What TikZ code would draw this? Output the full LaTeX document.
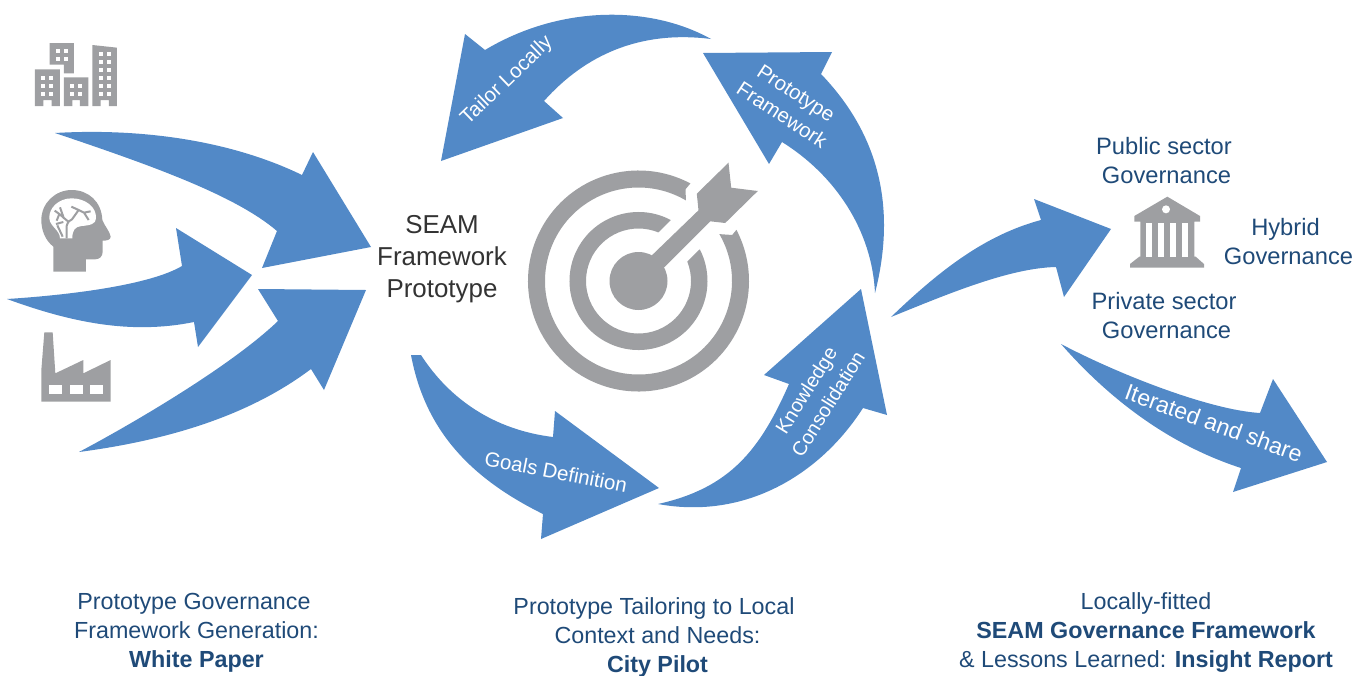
\documentclass[tikz,border=0pt]{standalone}
\usepackage{fontspec}
\setmainfont{Liberation Sans}
\definecolor{arrowblue}{HTML}{5289C7}
\definecolor{icongray}{HTML}{9E9FA2}
\definecolor{navy}{HTML}{1F4A78}
\definecolor{ink}{HTML}{333333}
\tikzset{
  bigarrow/.style={fill=arrowblue,draw=none},
  icon/.style={fill=icongray,draw=none},
  hole/.style={fill=white,draw=none},
  arrowlabel/.style={text=white,align=center,font=\fontsize{20.5}{26}\selectfont,inner sep=0pt},
  govlabel/.style={text=navy,align=center,font=\fontsize{23.7}{29}\selectfont,inner sep=0pt},
  caption/.style={text=navy,align=center,font=\fontsize{23.3}{29}\selectfont,inner sep=0pt},
  corelabel/.style={text=ink,align=center,font=\fontsize{25.9}{32}\selectfont,inner sep=0pt},
  zoomed/.style={shift={(0pt,-20pt)},x=0.33333pt,y=-0.33333pt}
}
\begin{document}
\begin{tikzpicture}[x=1pt,y=-1pt]
\useasboundingbox (0,0) rectangle (1365,675);
% left arrows
\fill[bigarrow] (55,133) .. controls (140,128) and (230,140) .. (302,175) -- (313,152) -- (371,247) -- (262,268) -- (277,231) .. controls (235,195) and (150,165) .. (55,133) -- cycle;
\fill[bigarrow] (7,299) .. controls (70,295) and (150,285) .. (182,266) -- (176,228) -- (252,275) -- (198,347) -- (194,322) .. controls (130,335) and (70,322) .. (7,299) -- cycle;
\fill[bigarrow] (79,452) .. controls (130,425) and (230,367) .. (278,321) -- (258,289) -- (366,290) -- (324,390) -- (311,369) .. controls (250,415) and (170,440) .. (79,452) -- cycle;
% cycle arrows
\fill[bigarrow] (711,39) .. controls (650,5) and (560,5) .. (485,50) -- (465,34) -- (441,161) -- (563,118) -- (544,101) .. controls (585,55) and (640,30) .. (711,39) -- cycle;
\fill[bigarrow] (703,53) -- (832,52) -- (821,74) .. controls (870,125) and (900,195) .. (875,293) .. controls (872,230) and (835,175) .. (782,142) -- (769,164) -- cycle;
\fill[bigarrow] (411,355) -- (421,355) .. controls (450,400) and (495,430) .. (553,437) -- (555,411) -- (659,488) -- (541,539) -- (543,514) .. controls (470,478) and (425,430) .. (411,355) -- cycle;
\fill[bigarrow] (658,504) .. controls (730,488) and (760,450) .. (789,384) -- (764,375) -- (861,289) -- (887,415) -- (863,408) .. controls (820,475) and (745,520) .. (658,504) -- cycle;
% right arrows
\fill[bigarrow] (891,317) .. controls (940,270) and (985,235) .. (1041,220) -- (1034,199) -- (1111,229) -- (1064,297) -- (1056,267) .. controls (1010,268) and (950,293) .. (891,317) -- cycle;
\fill[bigarrow] (1061,344) .. controls (1120,375) and (1210,410) .. (1260,413) -- (1273,379) -- (1327,462) -- (1233,492) -- (1241,468) .. controls (1170,445) and (1110,400) .. (1061,344) -- cycle;
% target
\begin{scope}[shift={(638.5pt,-281pt)},x=1pt,y=1pt]
\fill[icon] (0,0) circle[radius=29pt];
\fill[icon] (62:69) arc[start angle=62,end angle=387.4,radius=69pt] -- (21.8:52.5) arc[start angle=381.8,end angle=67.8,radius=52.5pt] -- cycle;
\fill[icon] (62:110.5) arc[start angle=62,end angle=387.6,radius=110.5pt] -- (93.7,46) -- (30.1:93.5) arc[start angle=390.1,end angle=59.5,radius=93.5pt] -- (47,91.7) -- cycle;
\fill[icon] (14,26.3) -- (60,70.7) -- (58.3,87.3) -- (90,118.3) -- (92.7,93.3) -- (119.3,90) -- (86.7,58) -- (71.7,59.7) -- (26,14) -- (0,0) -- cycle;
\end{scope}
% buildings
\begin{scope}[zoomed]
\fill[icon] (149,69) -- (222,69) -- (222,160) -- (192,160) -- (192,134) -- (149,134) -- cycle;
\fill[icon] (105,148) -- (180,148) -- (180,258) -- (155,258) -- (155,240) -- (130,240) -- (130,258) -- (105,258) -- cycle;
\fill[icon] (192,172) -- (265,172) -- (265,258) -- (240,258) -- (240,240) -- (217,240) -- (217,258) -- (192,258) -- cycle;
\fill[icon] (277,75) -- (351,83) -- (351,258) -- (327,258) -- (327,240) -- (302,240) -- (302,258) -- (277,258) -- cycle;
\foreach \wx/\wy in {168/87,192/87,168/111,192/111,124/167,148/167,124/191,148/191,124/215,148/215,211/191,235/191,211/215,235/215,296/96,320/96,296/120,320/120,296/144,320/144,296/167,320/167,296/191,320/191,296/215,320/215}
  \fill[hole] (\wx,\wy) rectangle ++(12,12);
% head
\fill[icon] (160,755) -- (160,680) .. controls (135,660) and (124,630) .. (124,600) .. controls (124,550) and (165,510) .. (215,510) .. controls (265,510) and (305,545) .. (307,600) .. controls (315,620) and (330,635) .. (332,650) .. controls (332,660) and (320,662) .. (308,662) -- (308,695) .. controls (308,710) and (298,718) .. (285,718) -- (258,718) -- (258,755) -- cycle;
\fill[hole] (148,595) .. controls (146,565) and (175,535) .. (215,535) .. controls (255,535) and (290,560) .. (288,595) .. controls (288,612) and (270,616) .. (245,618) .. controls (225,620) and (217,630) .. (217,655) -- (180,655) .. controls (180,630) and (150,620) .. (148,595) -- cycle;
\draw[icongray,line width=2pt,line join=round] (200,655) -- (200,618) .. controls (203,605) and (210,600) .. (216,598) -- (236,570) -- (214,560)
  (236,570) -- (252,578) -- (266,600) (252,578) -- (272,574)
  (206,606) -- (178,582) -- (164,572) (178,582) -- (170,602) (192,596) -- (180,562)
  (168,612) -- (190,606) (172,616) -- (188,650);
% factory
\fill[icon] (133,937) -- (158,937) -- (166,1060) -- (250,1020) -- (250,1060) -- (332,1020) -- (332,1145) -- (124,1145) -- (124,1050) -- cycle;
\foreach \wx in {148,210,271}
  \fill[hole] (\wx,1095) rectangle ++(38,27);
\end{scope}
% bank
\begin{scope}[shift={(1080pt,-120pt)},x=0.33333pt,y=-0.33333pt]
\fill[icon] (262,230) -- (360,288) -- (360,305) -- (343,305) -- (343,410) -- (347,410) -- (372,432) -- (372,443) -- (150,443) -- (150,432) -- (178,410) -- (181,410) -- (181,305) -- (163,305) -- (163,288) -- cycle;
\fill[hole] (258,268) circle[radius=12];
\foreach \wx in {198,234,270,305}
  \fill[hole] (\wx,310) rectangle ++(19,100);
\end{scope}
% texts
\node[corelabel] (core) at (442,259) {SEAM\\Framework\\Prototype};
\node[arrowlabel,rotate=44] (tailor) at (507,81) {Tailor Locally};
\node[arrowlabel,rotate=-33] (proto) at (789,104) {Prototype\\Framework};
\node[arrowlabel,rotate=-11] (goals) at (556,472) {Goals Definition};
\node[arrowlabel,rotate=58,font=\fontsize{19.8}{26}\selectfont] (know) at (817,397) {Knowledge\\Consolidation};
\node[arrowlabel,rotate=-20,font=\fontsize{23}{26}\selectfont] (iter) at (1214,423) {Iterated and share};
\node[govlabel] (pub) at (1166.5,160.5) {Public sector\kern5pt\\Governance};
\node[govlabel] (priv) at (1166.5,315.5) {Private sector\kern5pt\\Governance};
\node[govlabel] (hyb) at (1288.5,242) {Hybrid\kern6pt\\Governance};
\node[caption] (cap1) at (194,633) {Prototype Governance\\\kern5pt Framework Generation:\\\kern5pt\textbf{White Paper}};
\node[caption] (cap2) at (654,637) {Prototype Tailoring to Local\\\kern7pt Context and Needs:\\\kern7pt\textbf{City Pilot}};
\node[caption] (cap3) at (1146,633) {Locally-fitted\\\textbf{SEAM Governance Framework}\\\& Lessons Learned: \textbf{Insight Report}};
\end{tikzpicture}
\end{document}
